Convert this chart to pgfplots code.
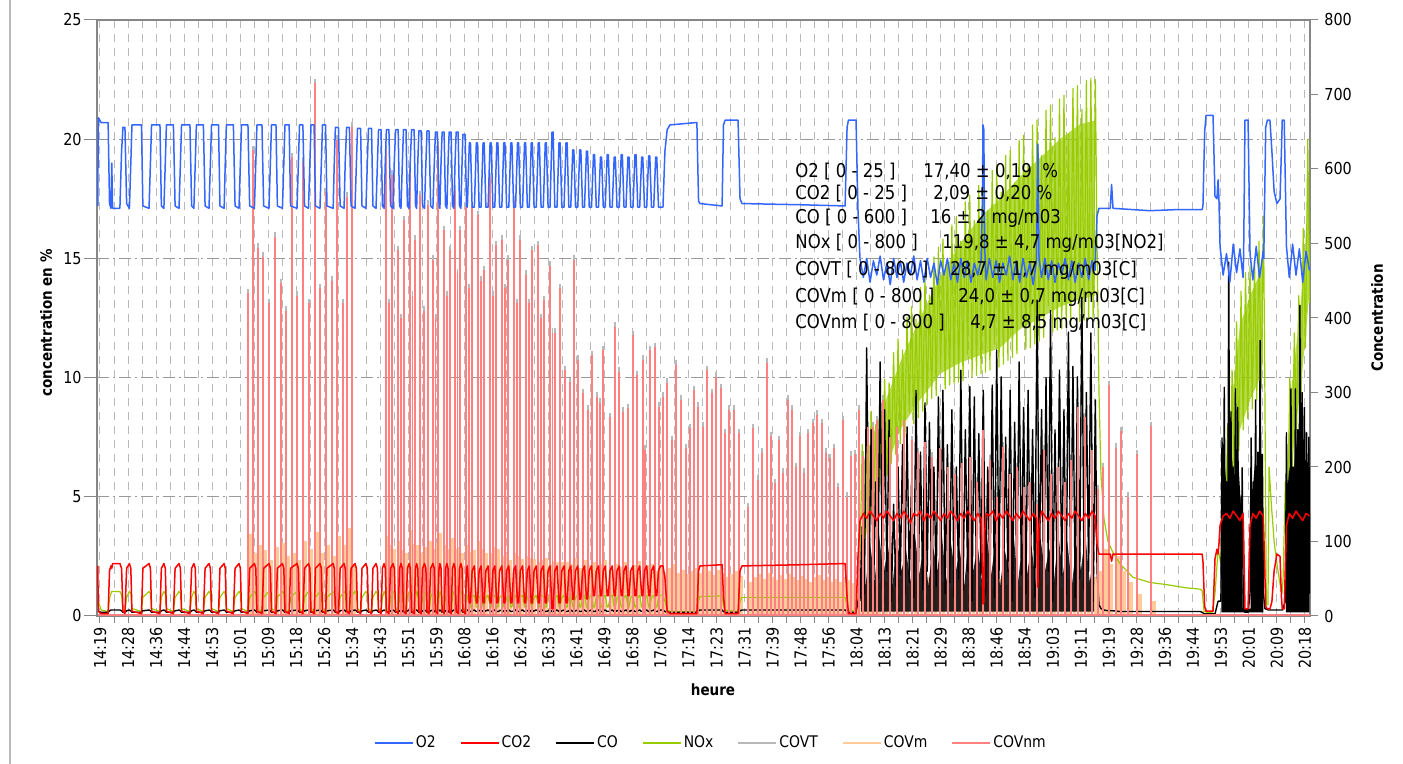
\documentclass[border=0pt]{standalone}
\usepackage{fontspec}
\setmainfont{DejaVu Sans}[FakeStretch=0.87]
\usepackage{pgfplots}
\usepackage{pgfplotstable}
\pgfplotsset{compat=1.18}
\definecolor{o2c}{RGB}{51,102,255}
\definecolor{co2c}{RGB}{255,0,0}
\definecolor{noxc}{RGB}{153,204,0}
\definecolor{covtc}{RGB}{185,185,185}
\definecolor{covmc}{RGB}{255,204,153}
\definecolor{covnmc}{RGB}{255,128,128}
\definecolor{axc}{RGB}{134,134,134}
\definecolor{gridc}{RGB}{185,185,185}
\newcommand\tf{\fontsize{8.25pt}{9pt}\selectfont}
\newcommand\lf{\fontsize{8pt}{9pt}\selectfont}
\newcommand\af{\fontsize{9.5pt}{11pt}\selectfont}
\newcommand\bl{\fontsize{7.75pt}{9pt}\selectfont\bfseries}

% O2 / CO2 / NOx / CO, 14:19 -> 18:04 (x = tick index)
\pgfplotstableread{
x o2 co2 nox co
-0.08 17.2 2.1 25 8
-0.06 20.9 0.2 20 6
0.04 20.7 0.1 8 5
0.29 20.7 0.1 6 5
0.34 17.3 1.9 24 7
0.39 17.1 2.1 30 8
0.42 19.0 2.0 33 8
0.45 17.1 2.2 33 8
0.71 17.1 2.2 33 8
0.77 19.5 2.0 28 7
0.82 20.5 0.2 8 5
0.89 20.5 0.1 6 5
0.95 17.3 2.0 25 7
1.05 17.1 2.2 33 8
1.10 19.0 2.0 30 7
1.14 20.6 0.2 10 5
1.48 20.6 0.1 6 5
1.53 17.2 2.0 25 7
1.75 17.1 2.2 33 8
1.80 19.0 2.0 30 7
1.84 20.6 0.2 10 5
2.14 20.6 0.1 6 5
2.19 17.2 2.0 25 7
2.28 17.1 2.2 33 8
2.33 19.0 2.0 30 7
2.37 20.6 0.2 10 5
2.62 20.6 0.1 6 5
2.68 17.2 2.0 25 7
2.82 17.1 2.2 33 8
2.87 19.0 2.0 30 7
2.91 20.6 0.2 10 5
3.21 20.6 0.1 6 5
3.27 17.2 2.0 25 7
3.35 17.1 2.2 33 8
3.40 19.0 2.0 30 7
3.44 20.6 0.2 10 5
3.69 20.6 0.1 6 5
3.75 17.2 2.0 25 7
3.89 17.1 2.2 33 8
3.94 19.0 2.0 30 7
3.98 20.6 0.2 10 5
4.23 20.6 0.1 6 5
4.28 17.2 2.0 25 7
4.43 17.1 2.2 33 8
4.47 19.0 2.0 30 7
4.51 20.6 0.2 10 5
4.76 20.6 0.1 6 5
4.82 17.2 2.0 25 7
4.96 17.1 2.2 33 8
5.01 19.0 2.0 30 7
5.05 20.6 0.2 10 5
5.28 20.6 0.1 6 5
5.34 17.2 2.0 25 7
5.51 17.1 2.2 33 8
5.56 19.0 2.0 30 7
5.60 20.6 0.2 10 5
5.78 20.6 0.1 6 5
5.84 17.2 2.0 25 7
6.03 17.1 2.2 33 8
6.08 19.0 2.0 30 7
6.12 20.6 0.2 10 5
6.28 20.6 0.1 6 5
6.33 17.2 2.0 25 7
6.51 17.1 2.2 33 8
6.56 19.0 2.0 30 7
6.60 20.6 0.2 10 5
6.75 20.6 0.1 6 5
6.80 17.2 2.0 25 7
7.03 17.1 2.2 33 8
7.08 19.0 2.0 30 7
7.12 20.6 0.2 10 5
7.24 20.6 0.1 6 5
7.30 17.2 2.0 25 7
7.44 17.1 2.2 33 8
7.49 19.0 2.0 30 7
7.53 20.6 0.2 10 5
7.64 20.6 0.1 6 5
7.69 17.2 2.0 25 7
7.85 17.1 2.2 33 8
7.90 19.0 2.0 30 7
7.94 20.6 0.2 10 5
8.05 20.6 0.1 6 5
8.10 17.2 2.0 25 7
8.32 17.1 2.2 33 8
8.36 19.0 2.0 30 7
8.40 20.5 0.2 10 5
8.51 20.5 0.1 6 5
8.57 17.2 2.0 25 7
8.71 17.1 2.2 33 8
8.75 19.0 2.0 30 7
8.80 20.5 0.2 10 5
8.90 20.5 0.1 6 5
8.96 17.2 2.0 25 7
9.10 17.1 2.2 33 8
9.15 19.0 2.0 30 7
9.19 20.45 0.2 10 5
9.30 20.45 0.1 6 5
9.35 17.2 2.0 25 7
9.49 17.1 2.2 33 8
9.54 19.0 2.0 30 7
9.58 20.45 0.2 10 5
9.69 20.45 0.1 6 5
9.74 17.2 2.0 25 7
9.85 17.1 2.2 33 8
9.90 19.0 2.0 30 7
9.94 20.4 0.2 10 5
10.03 20.4 0.1 6 5
10.08 17.2 2.0 25 7
10.14 17.1 2.2 33 8
10.18 19.0 2.0 30 7
10.22 20.4 0.2 10 5
10.31 20.4 0.1 6 5
10.37 17.2 2.0 25 7
10.46 17.1 2.2 33 8
10.50 19.0 2.0 30 7
10.55 20.4 0.2 10 5
10.64 20.4 0.1 6 5
10.69 17.2 2.0 25 7
10.74 17.1 2.2 33 8
10.79 19.0 2.0 30 7
10.83 20.4 0.2 10 5
10.92 20.4 0.1 6 5
10.97 17.2 2.0 25 7
11.03 17.1 2.2 33 8
11.07 19.0 2.0 30 7
11.12 20.4 0.2 10 5
11.21 20.4 0.1 6 5
11.26 17.2 2.0 25 7
11.30 17.1 2.2 33 8
11.34 19.0 2.0 30 7
11.38 20.35 0.2 10 5
11.46 20.35 0.1 6 5
11.51 17.2 2.0 25 7
11.58 17.1 2.2 33 8
11.63 19.0 2.0 30 7
11.67 20.35 0.2 10 5
11.74 20.35 0.1 6 5
11.80 17.2 2.0 25 7
11.88 17.1 2.2 33 8
11.93 19.0 2.0 30 7
11.97 20.3 0.2 10 5
12.04 20.3 0.1 6 5
12.10 17.2 2.0 25 7
12.13 17.1 2.2 33 8
12.17 19.0 2.0 30 7
12.21 20.3 0.2 10 5
12.28 20.3 0.1 6 5
12.33 17.2 2.0 25 7
12.38 17.1 2.2 33 8
12.42 19.0 2.0 30 7
12.46 20.3 0.2 10 5
12.53 20.3 0.1 6 5
12.58 17.2 2.0 25 7
12.63 17.1 2.2 33 8
12.67 19.0 2.0 30 7
12.71 20.3 0.2 10 5
12.78 20.3 0.1 6 5
12.83 17.2 2.0 25 7
12.88 17.1 2.2 33 8
12.92 19.0 2.0 30 7
12.95 20.2 0.2 10 5
13.03 20.2 0.1 6 5
13.08 17.2 2.0 25 7
13.11 17.15 2.1 28 8
13.18 19.85 0.55 12 6
13.22 19.85 0.55 12 6
13.28 17.15 1.9 25 7
13.36 17.15 2.1 28 8
13.43 19.85 0.55 12 6
13.47 19.85 0.55 12 6
13.53 17.15 1.9 25 7
13.60 17.15 2.1 28 8
13.67 19.85 0.55 12 6
13.71 19.85 0.55 12 6
13.77 17.15 1.9 25 7
13.85 17.15 2.1 28 8
13.92 19.85 0.55 12 6
13.96 19.85 0.55 12 6
14.02 17.15 1.9 25 7
14.09 17.15 2.1 28 8
14.16 19.85 0.55 12 6
14.20 19.85 0.55 12 6
14.26 17.15 1.9 25 7
14.34 17.15 2.1 28 8
14.41 19.85 0.55 12 6
14.45 19.85 0.55 12 6
14.51 17.15 1.9 25 7
14.59 17.15 2.1 28 8
14.66 19.85 0.55 12 6
14.70 19.85 0.55 12 6
14.76 17.15 1.9 25 7
14.83 17.15 2.1 28 8
14.90 19.85 0.55 12 6
14.94 19.85 0.55 12 6
15.00 17.15 1.9 25 7
15.08 17.15 2.1 28 8
15.15 19.85 0.55 12 6
15.19 19.85 0.55 12 6
15.25 17.15 1.9 25 7
15.32 17.15 2.1 28 8
15.39 19.85 0.55 12 6
15.43 19.85 0.55 12 6
15.49 17.15 1.9 25 7
15.57 17.15 2.1 28 8
15.64 19.85 0.55 12 6
15.68 19.85 0.55 12 6
15.74 17.15 1.9 25 7
15.82 17.15 2.1 28 8
15.89 19.85 0.55 12 6
15.93 19.85 0.55 12 6
15.99 17.15 1.9 25 7
16.06 17.15 2.1 28 8
16.13 20.3 0.3 12 6
16.17 20.3 0.3 12 6
16.23 17.15 1.9 25 7
16.31 17.15 2.1 28 8
16.38 19.85 0.55 12 6
16.42 19.85 0.55 12 6
16.48 17.15 1.9 25 7
16.56 17.15 2.1 28 8
16.63 19.85 0.55 12 6
16.67 19.85 0.55 12 6
16.73 17.15 1.9 25 7
16.80 17.15 2.1 28 8
16.87 19.55 0.7 12 6
16.91 19.55 0.7 12 6
16.97 17.15 1.9 25 7
17.05 17.15 2.1 28 8
17.12 19.55 0.7 12 6
17.16 19.55 0.7 12 6
17.22 17.15 1.9 25 7
17.29 17.15 2.1 28 8
17.36 19.5 0.72 12 6
17.40 19.5 0.72 12 6
17.46 17.15 1.9 25 7
17.54 17.15 2.1 28 8
17.61 19.35 0.85 12 6
17.65 19.35 0.85 12 6
17.71 17.15 1.9 25 7
17.79 17.15 2.1 28 8
17.86 19.25 0.85 12 6
17.90 19.25 0.85 12 6
17.96 17.15 1.9 25 7
18.03 17.15 2.1 28 8
18.10 19.35 0.85 12 6
18.14 19.35 0.85 12 6
18.20 17.15 1.9 25 7
18.28 17.15 2.1 28 8
18.35 19.25 0.85 12 6
18.39 19.25 0.85 12 6
18.45 17.15 1.9 25 7
18.53 17.15 2.1 28 8
18.60 19.35 0.85 12 6
18.64 19.35 0.85 12 6
18.70 17.15 1.9 25 7
18.77 17.15 2.1 28 8
18.84 19.25 0.85 12 6
18.88 19.25 0.85 12 6
18.94 17.15 1.9 25 7
19.02 17.15 2.1 28 8
19.09 19.35 0.85 12 6
19.13 19.35 0.85 12 6
19.19 17.15 1.9 25 7
19.26 17.15 2.1 28 8
19.33 19.25 0.85 12 6
19.37 19.25 0.85 12 6
19.43 17.15 1.9 25 7
19.51 17.15 2.1 28 8
19.58 19.3 0.85 12 6
19.62 19.3 0.85 12 6
19.68 17.15 1.9 25 7
19.76 17.15 2.1 28 8
19.83 19.25 0.85 12 6
19.87 19.25 0.85 12 6
19.93 17.15 1.9 25 7
20.00 17.15 2.1 28 8
20.09 17.15 2.1 28 8
20.16 19.5 1.6 20 6
20.24 20.4 0.2 8 5
20.34 20.6 0.1 6 5
21.30 20.7 0.1 6 5
21.36 17.4 1.9 20 7
21.41 17.3 2.1 26 8
22.20 17.2 2.15 27 8
22.25 20.6 0.8 14 6
22.31 20.8 0.1 8 5
22.77 20.8 0.1 6 5
22.84 17.5 1.9 20 7
22.91 17.3 2.1 25 8
24.98 17.25 2.15 25 8
26.59 17.2 2.2 25 8
26.66 20.5 0.8 14 6
26.71 20.8 0.1 8 5
26.98 20.8 0.1 6 5
27.05 17.0 2.5 20 20
27.12 15.0 4.0 60 30
}\tone

% O2 / CO2, 18:04 -> 20:18
\pgfplotstableread{
x o2 co2
27.12 15.0 4.0
27.24 14.2 4.3
27.36 15.0 4.1
27.48 14.0 4.4
27.60 14.9 4.2
27.72 14.3 4.0
27.84 15.1 4.3
27.96 14.1 4.1
28.08 14.8 4.4
28.20 13.9 4.2
28.32 15.0 4.0
28.44 14.2 4.3
28.56 14.9 4.1
28.68 14.0 4.4
28.80 14.8 4.2
28.92 14.3 3.9
29.04 15.1 4.3
29.16 14.1 4.2
29.28 14.9 4.4
29.40 14.0 4.0
29.52 15.0 4.3
29.64 14.2 4.1
29.76 14.8 4.4
29.88 13.9 4.2
30.00 14.9 4.0
30.12 14.3 4.3
30.24 15.0 4.1
30.36 14.1 4.4
30.48 14.8 4.2
30.60 14.0 4.0
30.72 15.0 4.3
30.84 14.2 4.1
30.96 14.9 4.4
31.08 14.0 4.2
31.20 14.8 4.0
31.32 14.3 4.3
31.44 14.9 4.1
31.49 17.5 2.0
31.51 20.6 0.5
31.54 20.4 0.6
31.57 15.5 3.5
31.62 14.1 4.3
31.74 15.0 4.2
31.86 14.2 4.4
31.98 14.9 4.0
32.10 14.0 4.3
32.22 14.8 4.1
32.34 14.3 4.4
32.46 15.1 4.2
32.58 14.1 4.0
32.70 14.9 4.3
32.82 14.0 4.1
32.94 15.0 4.4
33.06 14.2 4.2
33.18 14.8 4.0
33.30 13.9 4.3
33.42 14.9 4.1
33.47 19.8 1.2
33.51 15.0 3.8
33.60 14.2 4.4
33.72 15.0 4.2
33.84 14.1 4.0
33.96 14.9 4.3
34.08 14.0 4.1
34.20 14.8 4.4
34.32 14.3 4.2
34.44 15.0 4.0
34.56 14.1 4.3
34.68 14.9 4.1
34.80 14.0 4.4
34.92 14.8 4.2
35.04 14.2 4.0
35.16 15.0 4.3
35.28 14.1 4.1
35.40 14.9 4.4
35.51 14.5 4.2
35.58 16.8 3.0
35.65 17.1 2.6
36.05 17.1 2.6
36.10 18.1 2.3
36.15 17.1 2.6
37.47 17.0 2.6
38.50 17.05 2.6
39.33 17.05 2.6
39.36 17.2 2.3
39.42 20.3 0.4
39.47 21.0 0.2
39.72 21.0 0.2
39.79 17.6 2.4
39.86 17.5 2.8
39.90 18.3 2.6
39.93 17.5 3.0
39.97 15.5 3.8
40.08 14.3 4.2
40.20 15.2 4.3
40.32 14.0 4.1
40.44 15.6 4.4
40.56 14.4 4.2
40.68 15.4 4.0
40.79 14.2 4.3
40.81 15.0 3.5
40.86 20.8 0.3
40.97 20.8 0.3
41.04 15.2 3.8
41.14 14.1 4.3
41.26 15.5 4.1
41.38 14.2 4.4
41.51 15.3 4.2
41.53 15.0 3.5
41.60 20.5 0.4
41.66 20.8 0.3
41.75 20.8 0.3
41.82 19.5 0.6
41.90 17.8 1.9
42.00 17.3 2.6
42.11 17.5 2.5
42.16 19.5 0.8
42.19 20.8 0.3
42.26 20.8 0.3
42.34 15.5 3.8
42.44 14.2 4.3
42.56 15.6 4.1
42.68 14.3 4.4
42.80 15.4 4.2
42.92 14.0 4.0
43.04 15.3 4.3
43.16 14.5 4.2
}\ttwo

% NOx / CO, 18:04 -> 19:56
\pgfplotstableread{
x nox co
27.12 70 20
27.20 230 120
27.28 90 30
27.36 240 360
27.44 115 45
27.52 275 250
27.60 130 25
27.68 257 180
27.76 150 50
27.84 300 341
27.92 187 35
28.00 318 277
28.08 188 60
28.16 313 263
28.24 205 20
28.32 354 150
28.40 217 40
28.48 372 200
28.56 231 55
28.64 357 230
28.72 240 30
28.80 401 254
28.88 274 45
28.96 415 180
29.04 258 25
29.12 398 303
29.20 266 50
29.28 441 220
29.36 275 35
29.44 455 286
29.52 284 60
29.60 431 260
29.68 292 20
29.76 482 200
29.84 296 40
29.92 495 294
30.00 331 55
30.08 506 303
30.16 305 30
30.24 479 230
30.32 310 45
30.40 525 277
30.48 312 25
30.56 536 200
30.64 314 50
30.72 503 330
30.80 316 35
30.88 556 250
30.96 351 60
31.04 565 308
31.12 321 20
31.20 531 294
31.28 323 40
31.36 578 245
31.44 325 55
31.52 585 303
31.60 327 30
31.68 544 200
31.76 330 45
31.84 598 310
31.92 365 25
32.00 605 357
32.08 334 50
32.16 569 321
32.24 338 35
32.32 618 240
32.40 343 60
32.48 625 303
32.56 347 20
32.64 581 260
32.72 352 40
32.80 639 341
32.88 391 55
32.96 645 280
33.04 358 30
33.12 606 303
33.20 360 45
33.28 659 250
33.36 365 25
33.44 666 424
33.52 369 50
33.60 618 277
33.68 374 35
33.76 679 320
33.84 416 60
33.92 686 410
34.00 381 20
34.08 642 250
34.16 384 40
34.24 694 330
34.32 386 55
34.40 699 277
34.48 388 30
34.56 647 381
34.64 390 45
34.72 708 335
34.80 432 25
34.88 712 321
34.96 395 50
35.04 680 428
35.12 397 35
35.20 719 300
35.28 399 60
35.36 722 380
35.44 400 20
35.52 720 290
35.58 500 60
35.65 300 15
35.72 190 10
35.83 130 8
35.97 100 7
36.15 85 7
36.40 70 6
36.86 52 6
37.47 45 6
38.08 42 6
38.72 38 6
39.26 36 6
39.33 34 5
39.40 6 3
39.69 4 3
39.79 30 3
39.90 90 20
}\tthree

% COVnm (nm), COVT (t), COVm (xm, m)
\pgfplotstableread{
x nm t xm m
5.28 433 439 5.36 110
5.46 625 631 5.54 85
5.64 494 500 5.72 95
5.82 482 488 5.90 88
6.03 420 426 6.11 75
6.25 509 515 6.33 92
6.46 447 453 6.54 98
6.64 410 416 6.72 80
6.85 616 622 6.93 85
7.03 430 436 7.11 75
7.24 610 616 7.32 101
7.46 420 426 7.54 90
7.67 715 721 7.75 113
7.85 440 446 7.93 85
8.07 569 575 8.15 95
8.28 450 456 8.36 80
8.46 639 645 8.54 108
8.67 420 426 8.75 95
8.82 563 569 8.90 118
8.99 657 663 9.07 70
10.21 625 631 10.26 108
10.31 420 426 10.36 95
10.42 592 598 10.50 90
10.64 491 497 10.69 100
10.75 400 406 10.80 88
10.85 531 537 10.93 85
11.06 600 606 11.10 116
11.15 430 436 11.19 96
11.24 505 511 11.32 95
11.42 565 571 11.49 85
11.56 410 416 11.63 92
11.71 552 558 11.79 100
11.88 478 484 11.92 90
11.97 400 406 12.01 98
12.06 632 638 12.14 112
12.28 518 524 12.33 95
12.39 430 436 12.44 90
12.49 491 497 12.57 105
12.67 572 578 12.71 90
12.76 460 466 12.80 92
12.85 518 524 12.93 85
13.06 549 555 13.11 95
13.17 440 446 13.22 86
13.28 549 555 13.36 88
13.49 538 544 13.54 100
13.60 450 456 13.65 90
13.70 464 470 13.78 85
13.92 589 595 13.97 85
14.03 430 436 14.08 92
14.13 498 504 14.21 90
14.35 505 511 14.40 80
14.46 440 446 14.51 84
14.56 478 484 14.64 75
14.78 558 564 14.83 85
14.89 420 426 14.94 80
14.99 505 511 15.07 76
15.20 458 464 15.25 80
15.31 420 426 15.36 78
15.42 491 497 15.50 76
15.63 498 504 15.68 72
15.74 400 406 15.79 75
15.85 424 430 15.93 78
16.06 470 476 16.10 70
16.15 380 386 16.19 74
16.24 380 386 16.32 72
16.42 440 446 16.50 72
16.60 330 336 16.68 72
16.77 314 320 16.85 70
16.92 478 484 17.00 78
17.06 344 350 17.14 65
17.24 299 305 17.32 75
17.42 277 283 17.50 68
17.56 350 356 17.64 72
17.74 294 300 17.79 64
17.84 286 292 17.90 70
17.95 357 363 18.03 75
18.20 267 273 18.28 62
18.38 388 394 18.46 70
18.52 328 334 18.60 66
18.67 274 280 18.75 72
18.84 279 285 18.92 60
19.02 377 383 19.10 68
19.16 323 329 19.24 74
19.38 344 350 19.42 62
19.45 223 229 19.53 68
19.63 357 363 19.71 70
19.81 361 367 19.89 60
19.95 281 287 20.03 66
20.09 294 300 20.17 58
20.24 313 319 20.32 64
20.41 236 242 20.49 70
20.56 337 343 20.64 58
20.74 290 296 20.82 62
20.91 225 231 20.99 56
21.06 252 258 21.14 60
21.20 303 309 21.28 65
21.34 281 287 21.42 58
21.52 254 260 21.60 66
21.66 330 336 21.74 60
21.84 299 305 21.92 55
21.98 321 327 22.06 62
22.16 306 312 22.24 58
22.31 245 251 22.39 52
22.45 277 283 22.53 56
22.63 277 283 22.71 60
22.80 245 251 22.88 54
23.13 146 152 23.21 45
23.30 252 258 23.38 52
23.48 183 189 23.56 56
23.63 219 225 23.71 50
23.80 340 346 23.88 58
23.95 241 247 24.03 52
24.09 178 184 24.17 48
24.23 236 242 24.31 55
24.38 192 198 24.46 50
24.55 290 296 24.63 56
24.70 277 283 24.78 52
24.84 200 206 24.92 48
24.98 241 247 25.06 54
25.13 192 198 25.21 50
25.27 245 251 25.35 46
25.45 259 265 25.53 52
25.59 270 276 25.67 55
25.77 259 265 25.85 48
25.91 219 225 25.99 52
26.05 212 218 26.13 45
26.20 225 231 26.28 50
26.34 173 179 26.42 46
26.52 263 269 26.60 52
26.66 160 166 26.74 48
26.80 215 221 26.88 44
26.94 217 223 27.02 50
27.09 277 283 27.17 46
27.23 215 221 27.31 45
27.41 254 260 27.49 42
27.59 254 260 27.67 40
27.73 263 269 27.81 44
27.94 290 296 28.06 45
28.19 240 246 28.31 38
28.44 254 260 28.56 50
28.69 263 269 28.81 40
28.98 236 242 29.10 48
29.19 220 226 29.31 35
29.44 233 239 29.56 52
29.69 214 220 29.81 40
29.98 225 231 30.10 45
30.26 200 206 30.38 38
30.51 190 196 30.63 50
30.76 205 211 30.88 42
31.05 214 220 31.17 55
31.30 180 186 31.42 40
31.51 250 256 31.63 45
31.76 210 216 31.88 38
32.01 160 166 32.13 50
32.23 227 233 32.35 42
32.48 190 196 32.60 56
32.73 200 206 32.85 40
32.98 173 179 33.10 48
33.19 180 186 33.31 36
33.44 150 156 33.56 50
33.69 223 229 33.81 42
33.94 190 196 34.06 45
34.19 200 206 34.31 38
34.44 180 186 34.56 50
34.65 210 216 34.77 40
34.90 281 287 35.02 48
35.15 267 273 35.27 44
35.40 223 229 35.52 52
35.62 170 176 35.72 60
35.80 200 206 35.90 90
36.01 310 316 36.10 70
36.26 226 232 36.36 80
36.44 248 254 36.54 60
36.69 160 166 36.79 45
37.01 217 223 37.11 30
37.51 255 261 37.61 20
}\tcov

\begin{document}
\begin{tikzpicture}
\pgfplotsset{base/.style={width=606.5pt, height=298pt, scale only axis,
  at={(48.5pt,74pt)}, anchor=south west, xmin=-0.107, xmax=43.18,
  /pgf/number format/assume math mode=true}}

% ---- axis A: frame, grid, time axis
\begin{axis}[base, ymin=0, ymax=25,
  axis line style={axc, line width=0.6pt},
  xtick={0,...,43},
  xticklabels={14:19,14:28,14:36,14:44,14:53,15:01,15:09,15:18,15:26,15:34,15:43,15:51,15:59,16:08,16:16,16:24,16:33,16:41,16:49,16:58,17:06,17:14,17:23,17:31,17:39,17:48,17:56,18:04,18:13,18:21,18:29,18:38,18:46,18:54,19:03,19:11,19:19,19:28,19:36,19:44,19:53,20:01,20:09,20:18},
  minor x tick num=1, xtick pos=left, tick align=outside,
  major tick length=3.5pt, minor tick length=3.5pt,
  tick style={axc, line width=0.5pt},
  xticklabel style={rotate=90, anchor=east, font=\tf, inner xsep=2pt},
  ytick={0,5,...,25}, yticklabels={}, ytick style={draw=none},
  xmajorgrids, xminorgrids, ymajorgrids,
  x grid style={gridc, dash pattern=on 4pt off 3pt, line width=0.5pt},
  y grid style={gray!80, dash pattern=on 6pt off 2pt on 1pt off 2pt, line width=0.5pt},
]
\addplot[draw=none, forget plot] coordinates {(0,0)};
\end{axis}

% ---- axis B: right scale, mg/m3 series
\begin{axis}[base, ymin=0, ymax=800,
  axis y line*=right, hide x axis,
  axis line style={axc, line width=0.6pt},
  ytick={0,100,...,800}, tick align=outside, major tick length=4pt,
  tick style={axc, line width=0.5pt},
  yticklabel style={font=\tf, inner xsep=3pt},
  legend style={at={(0.506,-0.213)}, anchor=center, draw=none, fill=none,
    font=\lf, /tikz/every even column/.append style={column sep=11pt},
    nodes={inner xsep=1pt, inner ysep=1pt}},
  legend columns=7,
  legend image code/.code={\draw[#1] (0pt,0pt) -- (19pt,0pt);},
]
\addlegendimage{o2c, line width=1pt}\addlegendentry{O2}
\addlegendimage{co2c, line width=1pt}\addlegendentry{CO2}
\addlegendimage{black, line width=1pt}\addlegendentry{CO}
\addlegendimage{noxc, line width=1pt}\addlegendentry{NOx}
\addlegendimage{covtc, line width=1pt}\addlegendentry{COVT}
\addlegendimage{covmc, line width=1pt}\addlegendentry{COVm}
\addlegendimage{covnmc, line width=1pt}\addlegendentry{COVnm}

\addplot[ycomb, covtc, line width=0.9pt, forget plot] table[x=x, y=t] {\tcov};
\addplot[ycomb, covmc, line width=1.8pt, forget plot] table[x=xm, y=m] {\tcov};
% NOx: dense band (envelope fill) + trace
\addplot[fill=noxc, fill opacity=0.7, draw=none, forget plot] coordinates {
(27.19,200) (27.84,270) (28.55,340) (29.26,400) (29.98,455) (30.69,500) (31.41,535) (32.12,560) (32.83,590) (33.55,615) (34.26,640) (34.97,660) (35.51,665)
(35.51,430) (34.97,425) (34.26,415) (33.55,400) (32.83,385) (32.12,360) (31.41,350) (30.69,340) (29.98,325) (29.26,290) (28.55,250) (27.84,175) (27.19,90)} -- cycle;
\addplot[fill=noxc, fill opacity=0.7, draw=none, forget plot] coordinates {
(40.08,150) (40.33,270) (40.68,390) (41.04,430) (41.40,460) (41.50,480)
(41.50,340) (41.40,320) (41.04,290) (40.68,250) (40.33,160) (40.08,90)} -- cycle;
\addplot[fill=noxc, fill opacity=0.7, draw=none, forget plot] coordinates {
(42.29,150) (42.47,290) (42.65,350) (42.83,410) (43.01,500) (43.15,600)
(43.15,430) (43.01,370) (42.83,300) (42.65,250) (42.47,170) (42.29,90)} -- cycle;
\addplot[noxc, line width=0.6pt, line join=round, forget plot] table[x=x, y=nox] {\tone};
\addplot[noxc, line width=0.6pt, line join=round, forget plot] table[x=x, y=nox] {\tthree};
\addplot[noxc, line width=0.6pt, line join=round, forget plot] coordinates {
(39.90,90) (40.00,70) (40.08,180) (40.16,92) (40.24,255) (40.32,148) (40.40,330) (40.48,190) (40.56,395) (40.64,222) (40.72,436) (40.80,250) (40.88,461) (40.96,265) (41.04,470) (41.12,278) (41.20,478) (41.28,290) (41.36,503) (41.44,306) (41.52,537) (41.57,300) (41.62,15) (41.68,15) (41.72,200) (41.80,150) (41.90,100) (42.00,70) (42.10,45) (42.18,30) (42.22,50) (42.30,180) (42.38,100) (42.46,320) (42.54,180) (42.62,380) (42.70,250) (42.78,430) (42.86,290) (42.94,520) (43.02,360) (43.10,640) (43.17,420)};
% CO: dense low mass + spikes
\addplot[fill=black, fill opacity=0.85, draw=none, forget plot] coordinates {
(27.16,70) (27.32,40) (27.48,100) (27.64,45) (27.80,110) (27.96,55) (28.12,95) (28.28,40) (28.44,105) (28.60,60) (28.76,90) (28.92,45) (29.08,110) (29.24,55) (29.40,100) (29.56,40) (29.72,95) (29.88,60) (30.04,110) (30.20,45) (30.36,100) (30.52,55) (30.68,90) (30.84,40) (31.00,105) (31.16,60) (31.32,95) (31.48,45) (31.64,110) (31.80,55) (31.96,100) (32.12,40) (32.28,90) (32.44,60) (32.60,110) (32.76,45) (32.92,100) (33.08,55) (33.24,95) (33.40,40) (33.56,105) (33.72,60) (33.88,90) (34.04,45) (34.20,110) (34.36,55) (34.52,100) (34.68,40) (34.84,95) (35.00,60) (35.16,110) (35.32,45) (35.48,90) (35.48,6) (27.16,6)} -- cycle;
\addplot[fill=black, draw=none, forget plot] coordinates {
(40.02,120) (40.14,200) (40.26,150) (40.38,220) (40.50,160) (40.62,210) (40.74,130) (40.78,10) (41.06,10) (41.10,150) (41.22,210) (41.34,160) (41.46,200) (41.52,120) (41.52,5) (40.02,5)} -- cycle;
\addplot[fill=black, draw=none, forget plot] coordinates {
(42.32,140) (42.44,200) (42.56,160) (42.68,240) (42.80,180) (42.92,250) (43.04,170) (43.16,230) (43.16,5) (42.32,5)} -- cycle;
\addplot[black, line width=0.7pt, line join=round, forget plot] table[x=x, y=co] {\tone};
\addplot[black, line width=0.7pt, line join=round, forget plot] table[x=x, y=co] {\tthree};
\addplot[black, line width=0.7pt, line join=round, forget plot] coordinates {
(39.90,20) (40.00,20) (40.04,239) (40.08,30) (40.12,307) (40.16,40) (40.20,180) (40.24,30) (40.28,475) (40.32,40) (40.36,274) (40.40,35) (40.44,200) (40.48,45) (40.52,305) (40.56,30) (40.60,280) (40.64,40) (40.68,160) (40.72,30) (40.76,199) (40.80,10) (40.86,5) (40.97,5) (41.04,30) (41.08,239) (41.12,40) (41.16,180) (41.20,35) (41.24,290) (41.28,45) (41.32,220) (41.36,30) (41.40,370) (41.44,40) (41.48,217) (41.52,30) (41.57,10) (41.70,8) (42.20,8) (42.30,20) (42.34,246) (42.38,30) (42.42,180) (42.46,40) (42.50,305) (42.54,30) (42.58,200) (42.62,45) (42.66,305) (42.70,35) (42.74,250) (42.78,40) (42.82,417) (42.86,30) (42.90,300) (42.94,45) (42.98,280) (43.02,35) (43.06,246) (43.10,40) (43.14,240) (43.17,30)};
\addplot[ycomb, covnmc, line width=0.9pt, forget plot] table[x=x, y=nm] {\tcov};
\addplot[covnmc, line width=0.8pt, forget plot] coordinates {(-0.08,1) (43.17,1)};
\end{axis}

% ---- axis C: left scale, % series on top
\begin{axis}[base, ymin=0, ymax=25,
  axis y line*=left, hide x axis,
  axis line style={axc, line width=0.6pt},
  ytick={0,5,...,25}, tick align=outside, major tick length=6.5pt,
  tick style={axc, line width=0.5pt},
  yticklabel style={font=\tf, inner xsep=1pt},
]
\addplot[o2c, line width=0.75pt, line join=round] table[x=x, y=o2] {\tone};
\addplot[o2c, line width=0.75pt, line join=round] table[x=x, y=o2] {\ttwo};
\addplot[co2c, line width=0.75pt, line join=round] table[x=x, y=co2] {\tone};
\addplot[co2c, line width=0.75pt, line join=round] table[x=x, y=co2] {\ttwo};
\end{axis}

% ---- labels and annotation
\draw[gray!55, line width=0.7pt] (5pt,0pt) -- (5pt,382pt);
\node[rotate=90, font=\bl] at (23pt,220.5pt) {concentration en \%};
\node[rotate=90, font=\bl] at (688.5pt,223pt) {Concentration};
\node[font=\bl] at (356.5pt,37pt) {heure};

\begin{scope}[every node/.style={anchor=base west, inner sep=0pt, font=\af}]
\node at (397.5pt,293pt) {O2 [ 0 - 25 ]};
\node at (461.5pt,293pt) {17,40 ± 0,19\ \ \%};
\node at (397.5pt,282.25pt) {CO2 [ 0 - 25 ]};
\node at (466.5pt,282.25pt) {2,09 ± 0,20 \%};
\node at (397.5pt,270.25pt) {CO [ 0 - 600 ]};
\node at (465pt,270.25pt) {16 ± 2 mg/m03};
\node at (397.5pt,257.5pt) {NOx [ 0 - 800 ]};
\node at (471pt,257.5pt) {119,8 ± 4,7 mg/m03[NO2]};
\node at (397.5pt,244pt) {COVT [ 0 - 800 ]};
\node at (475pt,244pt) {28,7 ± 1,7 mg/m03[C]};
\node at (397.5pt,230.75pt) {COVm [ 0 - 800 ]};
\node at (479pt,230.75pt) {24,0 ± 0,7 mg/m03[C]};
\node at (397.5pt,217.75pt) {COVnm [ 0 - 800 ]};
\node at (485pt,217.75pt) {4,7 ± 8,5 mg/m03[C]};
\end{scope}

\pgfresetboundingbox
\path[use as bounding box] (0pt,0pt) rectangle (701.5pt,382pt);
\end{tikzpicture}
\end{document}
